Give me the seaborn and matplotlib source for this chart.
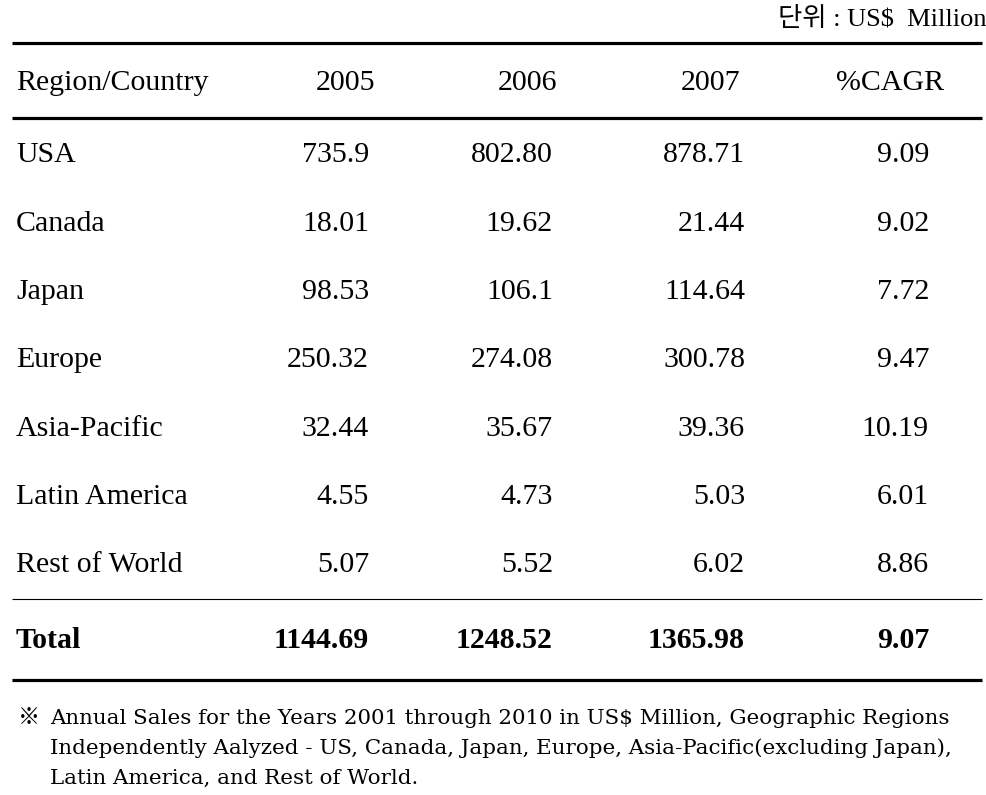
import matplotlib
matplotlib.use("Agg")
import matplotlib.pyplot as plt
from matplotlib import font_manager as fm
import seaborn as sns
import pandas as pd

regions = ["USA", "Canada", "Japan", "Europe", "Asia-Pacific", "Latin America", "Rest of World"]
y2005 = ["735.9", "18.01", "98.53", "250.32", "32.44", "4.55", "5.07"]
y2006 = ["802.80", "19.62", "106.1", "274.08", "35.67", "4.73", "5.52"]
y2007 = ["878.71", "21.44", "114.64", "300.78", "39.36", "5.03", "6.02"]
cagr = ["9.09", "9.02", "7.72", "9.47", "10.19", "6.01", "8.86"]
headers = ["Region/Country", "2005", "2006", "2007", "%CAGR"]
total = ["Total", "1144.69", "1248.52", "1365.98", "9.07"]
unit_text = "단위 : US$  Million"
note_lines = [
    "Annual Sales for the Years 2001 through 2010 in US$ Million, Geographic Regions",
    "Independently Aalyzed - US, Canada, Japan, Europe, Asia-Pacific(excluding Japan),",
    "Latin America, and Rest of World.",
]

df = pd.DataFrame({"Region/Country": regions, "2005": y2005, "2006": y2006,
                   "2007": y2007, "%CAGR": cagr})

sns.set_theme(style="white")
plt.rcParams["font.family"] = ["Liberation Serif", "Noto Sans CJK KR", "DejaVu Sans"]
plt.rcParams["text.color"] = "black"


def find_font(names):
    files = fm.findSystemFonts()
    for n in names:
        for f in files:
            if f.split("/")[-1].lower() == n.lower():
                return f
    return None


reg_path = find_font(["LiberationSerif-Regular.ttf"])
bold_path = find_font(["LiberationSerif-Bold.ttf"])
note_path = find_font(["DejaVuSerif.ttf"])


def fp(path, size, weight="normal", family="Liberation Serif"):
    if path:
        return fm.FontProperties(fname=path, size=size)
    return fm.FontProperties(family=family, size=size, weight=weight)


W, H = 987, 795
fig = plt.figure(figsize=(W / 100, H / 100), dpi=100)
ax = fig.add_axes([0, 0, 1, 1])
ax.set_xlim(0, W)
ax.set_ylim(H, 0)
ax.axis("off")

fs = 21.5
col_right_hdr = [None, 375, 557, 740, 944]
col_right = [None, 369, 553, 745, 929]
left_x = 16
dy = 3.5

ax.text(986, 19, unit_text, ha="right", va="center", fontsize=19, color="black",
        family=["Liberation Serif", "Noto Sans CJK KR", "DejaVu Sans"])

ax.plot([12, 982], [43, 43], color="black", lw=2.3, solid_capstyle="butt")
ax.plot([12, 982], [118, 118], color="black", lw=2.3, solid_capstyle="butt")

reg = fp(reg_path, fs)
bold = fp(bold_path, fs, weight="bold")

hy = 80 + dy
for j, h in enumerate(headers):
    if j == 0:
        ax.text(left_x, hy, h, ha="left", va="center", fontproperties=reg, color="black")
    else:
        ax.text(col_right_hdr[j], hy, h, ha="right", va="center", fontproperties=reg, color="black")

row0, step = 152 + dy, 68.3
for i, row in df.iterrows():
    y = row0 + i * step
    for j, c in enumerate(df.columns):
        if j == 0:
            ax.text(left_x, y, row[c], ha="left", va="center", fontproperties=reg, color="black")
        else:
            ax.text(col_right[j], y, row[c], ha="right", va="center", fontproperties=reg, color="black")

ax.plot([12, 982], [599, 599], color="black", lw=0.8, solid_capstyle="butt")
ty = 637 + dy
for j, t in enumerate(total):
    if j == 0:
        ax.text(left_x, ty, t, ha="left", va="center", fontproperties=bold, color="black")
    else:
        ax.text(col_right[j], ty, t, ha="right", va="center", fontproperties=bold, color="black")
ax.plot([12, 982], [680, 680], color="black", lw=2.3, solid_capstyle="butt")

note = fp(note_path, 15.4, family="DejaVu Serif")
ax.text(18, 717, "※", ha="left", va="center", fontsize=16, color="black",
        family=["Noto Sans CJK KR", "DejaVu Sans"])
for k, line in enumerate(note_lines):
    ax.text(50, 719 + k * 29.5, line, ha="left", va="center", fontproperties=note, color="black")

fig.savefig("out.png", dpi=100)
